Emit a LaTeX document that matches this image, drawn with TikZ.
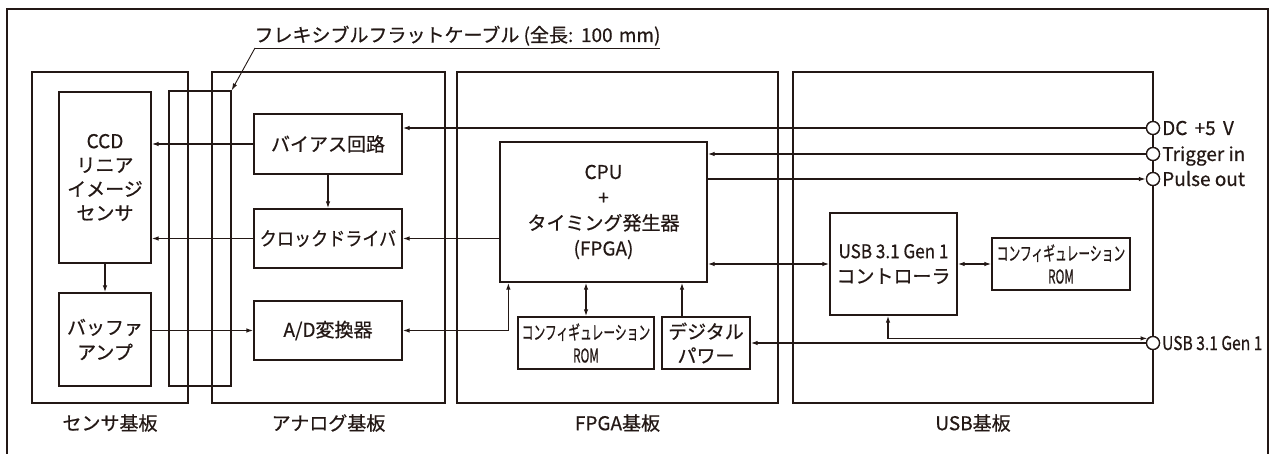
\documentclass[tikz,border=0pt]{standalone}
\usepackage{fontspec}
\usepackage{graphicx}
\setmainfont{Noto Sans CJK JP}[RawFeature={embolden=0.6}]
\usetikzlibrary{arrows.meta}
\definecolor{ink}{RGB}{35,24,21}
\newcommand{\narrowtxt}[1]{\scalebox{0.62}[1]{#1}}
\begin{document}
\begin{tikzpicture}[x=1pt,y=-1pt,
  every node/.style={text=ink, font=\fontsize{19}{24}\selectfont},
  board/.style={draw=ink, line width=2.6pt, inner sep=0pt},
  blk/.style={draw=ink, line width=1.3pt, inner sep=0pt, align=center},
  wire/.style={draw=ink, line width=1.3pt},
  tip/.tip={Latex[length=7pt,width=4.5pt]},
  arr/.style={wire, -tip},
  darr/.style={wire, tip-tip},
  port/.style={circle, draw=ink, fill=white, line width=1.3pt, minimum size=13pt, inner sep=0pt},
  plabel/.style={anchor=base west, inner sep=0pt},
  blabel/.style={anchor=center, inner sep=0pt}
]
\useasboundingbox (0,0) rectangle (1276,454);
\clip (0,0) rectangle (1276,454);
\fill[white] (0,0) rectangle (1276,454);
% outer frame
\draw[ink, line width=2pt] (7,470) -- (7,9) -- (1268,9) -- (1268,470);

% boards
\node[board, minimum width=156, minimum height=331] (sb) at (110,237.5) {};
\node[board, minimum width=233, minimum height=331] (ab) at (328.5,237.5) {};
\node[board, minimum width=321, minimum height=331] (fb) at (617.5,237.5) {};
\node[board, minimum width=360, minimum height=331] (ub) at (973,237.5) {};

\node[blabel] (sbl) at (110,423) {センサ基板};
\node[blabel] (abl) at (328.5,423) {アナログ基板};
\node[blabel] (fbl) at (617.5,423) {FPGA基板};
\node[blabel] (ubl) at (973,423) {USB基板};

% flexible flat cable
\node[draw=ink, line width=1.3pt, inner sep=0pt, minimum width=62, minimum height=295] (ffc) at (200,238.5) {};
\node[anchor=base, inner sep=0pt] (ffcl) at (457.5,42) {フレキシブルフラットケーブル (全長:\hspace{2pt} 100\hspace{2pt} mm)};
\coordinate (ul1) at (255,48);
\coordinate (ul2) at (660,48);
\draw[wire, line width=0.9pt] (ul2) -- (ul1);
\draw[arr, line width=0.9pt] (ul1) -- (ffc.north east);

% sensor board blocks
\node[blk, minimum width=92, minimum height=171] (ccd) at (105,177.5) {CCD\\リニア\\イメージ\\センサ};
\node[blk, minimum width=92, minimum height=93, font=\fontsize{19}{25}\selectfont] (buf) at (105,339.5) {バッファ\\アンプ};

% analog board blocks
\node[blk, minimum width=148, minimum height=60] (bias) at (328,144) {バイアス回路};
\node[blk, minimum width=148, minimum height=59] (clk) at (328,238.5) {\scalebox{0.9}[1]{クロックドライバ}};
\node[blk, minimum width=148, minimum height=59] (ad) at (328,330.5) {A/D変換器};

% FPGA board blocks
\node[blk, minimum width=207, minimum height=140, font=\fontsize{19}{25.5}\selectfont] (cpu) at (603.5,212) {CPU\\+\\タイミング発生器\\(FPGA)};
\node[blk, minimum width=136, minimum height=52, font=\fontsize{19}{23}\selectfont] (cfg1) at (586,343) {\narrowtxt{コンフィギュレーション}\\\narrowtxt{ROM}};
\node[blk, minimum width=88, minimum height=52] (dp) at (706,343) {デジタル\\パワー};

% USB board blocks
\node[blk, minimum width=127, minimum height=102, font=\fontsize{19}{25}\selectfont] (usbc) at (893.5,264) {\scalebox{0.9}[1]{USB 3.1 Gen 1}\\コントローラ};
\node[blk, minimum width=138, minimum height=52, font=\fontsize{19}{23}\selectfont] (cfg2) at (1061,264) {\narrowtxt{コンフィギュレーション}\\\narrowtxt{ROM}};

% ports
\node[port] (pdc) at (1153,128) {};
\node[port] (ptr) at (1153,154) {};
\node[port] (ppo) at (1153,179) {};
\node[port] (pusb) at (1153,343) {};
\node[plabel] (ldc) at (1162,135) {DC\hspace{3pt} +5\hspace{3pt} V};
\node[plabel] (ltr) at (1162,161) {Trigger in};
\node[plabel] (lpo) at (1162,186) {Pulse out};
\node[plabel] (lusb) at (1162,350) {\scalebox{0.82}[1]{USB 3.1 Gen 1}};

% connectors
\draw[arr] (pdc.west) -- (pdc.west -| bias.east);
\draw[arr] (bias.west) -- (bias.west -| ccd.east);
\draw[arr] (bias.south) -- (clk.north);
\draw[arr] (clk.west) -- (clk.west -| ccd.east);
\draw[arr] (cpu.west |- clk.east) -- (clk.east);
\draw[arr] (ccd.south) -- (buf.north);
\draw[arr] (buf.east |- ad.west) -- (ad.west);
\draw[darr] (ad.east) -| ([xshift=9pt]cpu.south west);
\draw[darr] (cfg1.north) -- (cfg1.north |- cpu.south);
\draw[arr] ([xshift=-24pt]dp.north) -- ([xshift=-24pt]dp.north |- cpu.south);
\draw[arr] (pusb.west) -- (dp.east);
\draw[arr] (ptr.west) -- (ptr.west -| cpu.east);
\draw[arr] (cpu.east |- ppo.west) -- (ppo.west);
\draw[darr] (cpu.east |- usbc.west) -- (usbc.west);
\draw[darr] (usbc.east) -- (cfg2.west);
\draw[darr] ([xshift=-5.5pt]usbc.south) |- (pusb.140);

% redraw ports on top
\node[port] at (pdc) {};
\node[port] at (ptr) {};
\node[port] at (ppo) {};
\node[port] at (pusb) {};
\end{tikzpicture}
\end{document}
